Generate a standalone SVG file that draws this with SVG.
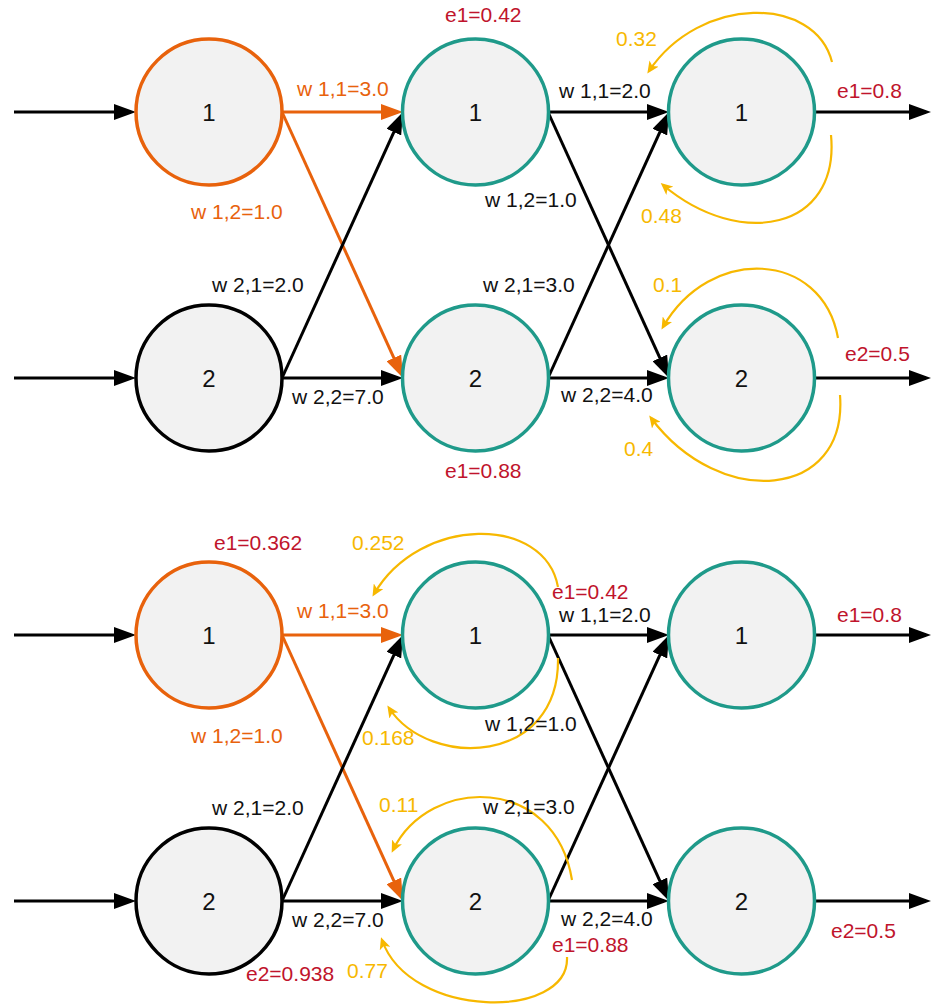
<svg xmlns="http://www.w3.org/2000/svg" width="932" height="1005" viewBox="0 0 932 1005">
  <style>
    .node { fill: #F2F2F2; stroke-width: 3.5; }
    .in { stroke: #E8620C; }
    .blk { stroke: #000000; }
    .hid { stroke: #1F9A8A; }
    .num { font-family: "Liberation Sans", Arial, sans-serif; font-size: 24px; fill: #111; text-anchor: middle; }
    .lbl { font-family: "Liberation Sans", Arial, sans-serif; font-size: 21px; }
    .w { fill: #111; }
    .wo { fill: #E8620C; }
    .e { fill: #C0142C; }
    .y { fill: #F7B800; }
    .ln { fill: none; stroke-width: 3; }
    .lk { stroke: #000; marker-end: url(#ah-k); }
    .lo { stroke: #E8620C; marker-end: url(#ah-o); }
    .arc { fill: none; stroke: #F7B800; stroke-width: 2.2; marker-end: url(#ah-y); }
  </style>
  <defs>
    <marker id="ah-k" viewBox="0 0 22 16" refX="17" refY="8" markerWidth="22" markerHeight="16" markerUnits="userSpaceOnUse" orient="auto">
      <path d="M0,0 L22,8 L0,16 z" fill="#000"/>
    </marker>
    <marker id="ah-o" viewBox="0 0 22 16" refX="17" refY="8" markerWidth="22" markerHeight="16" markerUnits="userSpaceOnUse" orient="auto">
      <path d="M0,0 L22,8 L0,16 z" fill="#E8620C"/>
    </marker>
    <marker id="ah-y" viewBox="0 0 12 11" refX="9" refY="5.5" markerWidth="12" markerHeight="11" markerUnits="userSpaceOnUse" orient="auto">
      <path d="M0,0 L12,5.5 L0,11 L3,5.5 z" fill="#F7B800"/>
    </marker>
  </defs>

  <!-- connectors -->
  <g id="connectors">
    <!-- upper network -->
    <line class="ln lk" x1="14" y1="112" x2="131" y2="112"/>
    <line class="ln lk" x1="14" y1="378" x2="131" y2="378"/>
    <line class="ln lo" x1="282" y1="112" x2="398" y2="112"/>
    <line class="ln lo" x1="282" y1="112" x2="400.9" y2="373.4"/>
    <line class="ln lk" x1="282" y1="378" x2="400.9" y2="116.6"/>
    <line class="ln lk" x1="282" y1="378" x2="398" y2="378"/>
    <line class="ln lk" x1="548" y1="112" x2="664" y2="112"/>
    <line class="ln lk" x1="548" y1="112" x2="666.9" y2="373.4"/>
    <line class="ln lk" x1="548" y1="378" x2="666.9" y2="116.6"/>
    <line class="ln lk" x1="548" y1="378" x2="664" y2="378"/>
    <line class="ln lk" x1="814" y1="112" x2="926" y2="112"/>
    <line class="ln lk" x1="814" y1="378" x2="926" y2="378"/>
    <path class="arc" d="M832,62 C815,-5 700,-5 649,71"/>
    <path class="arc" d="M831,135 C840,230 740,250 663,185"/>
    <path class="arc" d="M838,338 C822,250 710,245 663,327"/>
    <path class="arc" d="M840,395 C848,500 720,510 651,418"/>

    <!-- lower network -->
    <line class="ln lk" x1="14" y1="635" x2="131" y2="635"/>
    <line class="ln lk" x1="14" y1="901" x2="131" y2="901"/>
    <line class="ln lo" x1="282" y1="635" x2="398" y2="635"/>
    <line class="ln lo" x1="282" y1="635" x2="400.9" y2="896.4"/>
    <line class="ln lk" x1="282" y1="901" x2="400.9" y2="639.6"/>
    <line class="ln lk" x1="282" y1="901" x2="398" y2="901"/>
    <line class="ln lk" x1="548" y1="635" x2="664" y2="635"/>
    <line class="ln lk" x1="548" y1="635" x2="666.9" y2="896.4"/>
    <line class="ln lk" x1="548" y1="901" x2="666.9" y2="639.6"/>
    <line class="ln lk" x1="548" y1="901" x2="664" y2="901"/>
    <line class="ln lk" x1="814" y1="635" x2="926" y2="635"/>
    <line class="ln lk" x1="814" y1="901" x2="926" y2="901"/>
    <path class="arc" d="M558,587 C545,515 420,515 374,594"/>
    <path class="arc" d="M558,658 C560,765 430,770 389,708"/>
    <path class="arc" d="M572,880 C555,775 430,775 393,850"/>
    <path class="arc" d="M567,957 C570,1020 410,1020 382,940"/>
  </g>

  <!-- upper network nodes -->
  <g id="a-in1"><circle class="node in" cx="209" cy="112" r="73"/><text class="num" x="209" y="120.5">1</text></g>
  <g id="a-in2"><circle class="node blk" cx="209" cy="378" r="73"/><text class="num" x="209" y="386.5">2</text></g>
  <g id="a-h1"><circle class="node hid" cx="475.5" cy="112" r="73"/><text class="num" x="475.5" y="120.5">1</text></g>
  <g id="a-h2"><circle class="node hid" cx="475.5" cy="378" r="73"/><text class="num" x="475.5" y="386.5">2</text></g>
  <g id="a-o1"><circle class="node hid" cx="741.5" cy="112" r="73"/><text class="num" x="741.5" y="120.5">1</text></g>
  <g id="a-o2"><circle class="node hid" cx="741.5" cy="378" r="73"/><text class="num" x="741.5" y="386.5">2</text></g>

  <!-- lower network nodes -->
  <g id="b-in1"><circle class="node in" cx="209" cy="635" r="73"/><text class="num" x="209" y="643.5">1</text></g>
  <g id="b-in2"><circle class="node blk" cx="209" cy="901" r="73"/><text class="num" x="209" y="909.5">2</text></g>
  <g id="b-h1"><circle class="node hid" cx="475.5" cy="635" r="73"/><text class="num" x="475.5" y="643.5">1</text></g>
  <g id="b-h2"><circle class="node hid" cx="475.5" cy="901" r="73"/><text class="num" x="475.5" y="909.5">2</text></g>
  <g id="b-o1"><circle class="node hid" cx="741.5" cy="635" r="73"/><text class="num" x="741.5" y="643.5">1</text></g>
  <g id="b-o2"><circle class="node hid" cx="741.5" cy="901" r="73"/><text class="num" x="741.5" y="909.5">2</text></g>

  <!-- upper network labels -->
  <g id="a-labels" class="lbl">
    <text class="wo" x="297" y="96">w 1,1=3.0</text>
    <text class="wo" x="191" y="219">w 1,2=1.0</text>
    <text class="e" x="445" y="22">e1=0.42</text>
    <text class="y" x="616" y="46">0.32</text>
    <text class="w" x="559" y="98">w 1,1=2.0</text>
    <text class="e" x="837" y="98">e1=0.8</text>
    <text class="w" x="485" y="207">w 1,2=1.0</text>
    <text class="y" x="641" y="223">0.48</text>
    <text class="w" x="212" y="292">w 2,1=2.0</text>
    <text class="w" x="292" y="404">w 2,2=7.0</text>
    <text class="e" x="445" y="478">e1=0.88</text>
    <text class="w" x="483" y="292">w 2,1=3.0</text>
    <text class="y" x="653" y="292">0.1</text>
    <text class="w" x="561" y="402">w 2,2=4.0</text>
    <text class="e" x="845" y="361">e2=0.5</text>
    <text class="y" x="624" y="456">0.4</text>
  </g>

  <!-- lower network labels -->
  <g id="b-labels" class="lbl">
    <text class="e" x="214" y="550">e1=0.362</text>
    <text class="y" x="352" y="550">0.252</text>
    <text class="wo" x="297" y="618">w 1,1=3.0</text>
    <text class="wo" x="191" y="743">w 1,2=1.0</text>
    <text class="y" x="362" y="745">0.168</text>
    <text class="e" x="552" y="599">e1=0.42</text>
    <text class="w" x="559" y="622">w 1,1=2.0</text>
    <text class="e" x="837" y="622">e1=0.8</text>
    <text class="w" x="485" y="731">w 1,2=1.0</text>
    <text class="y" x="379" y="812">0.11</text>
    <text class="w" x="212" y="815">w 2,1=2.0</text>
    <text class="w" x="483" y="814">w 2,1=3.0</text>
    <text class="w" x="292" y="927">w 2,2=7.0</text>
    <text class="w" x="561" y="926">w 2,2=4.0</text>
    <text class="e" x="552" y="952">e1=0.88</text>
    <text class="e" x="831" y="938">e2=0.5</text>
    <text class="e" x="246" y="981">e2=0.938</text>
    <text class="y" x="347" y="978">0.77</text>
  </g>
</svg>
